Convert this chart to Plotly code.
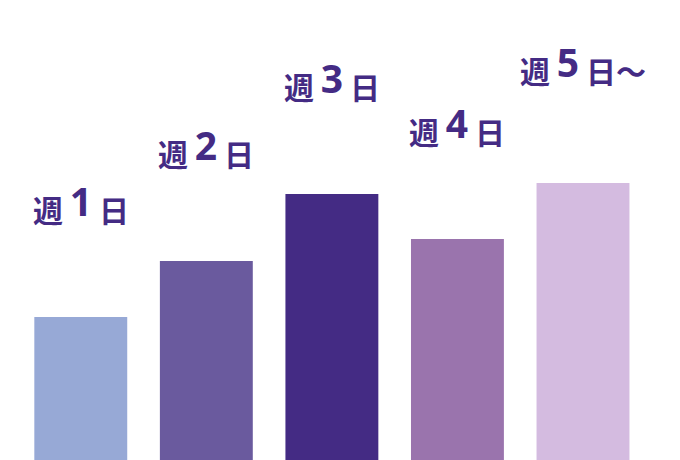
import plotly.graph_objects as go

# 週あたりの日数ごとの棒
categories = ["週1日", "週2日", "週3日", "週4日", "週5日～"]
values = [143, 199, 266, 221, 277]
numbers = ["1", "2", "3", "4", "5"]
suffixes = [" 日", " 日", " 日", " 日", " 日～"]
colors = ["#97A9D6", "#6A5A9E", "#442B84", "#9A74AD", "#D4BBE0"]

text_color = "#442B84"

fig = go.Figure(go.Bar(
    x=categories,
    y=values,
    marker=dict(color=colors, line=dict(width=0)),
    hoverinfo="skip",
))

# ラベル（数字だけ大きく、少し上げる）
for i, (cat, val, num, suf) in enumerate(zip(categories, values, numbers, suffixes)):
    label = ('<b>週 <span style="font-family:\'Noto Sans\';font-size:39px;'
             'baseline-shift:6px">' + num + '</span>' + suf + '</b>')
    last = i == len(categories) - 1
    fig.add_annotation(
        x=cat, y=val, text=label, showarrow=False,
        yanchor="middle", yshift=120 if last else 115,
        font=dict(family="Noto Sans CJK JP", size=30, color=text_color),
    )

# ページの余白 8px を差し引いた配置
fig.update_layout(
    width=680, height=460,
    margin=dict(l=10, r=40, t=0, b=8),
    paper_bgcolor="white", plot_bgcolor="white",
    bargap=0.26,
    showlegend=False,
    xaxis=dict(visible=False),
    yaxis=dict(visible=False, range=[0, 452]),
)

fig.write_html("out.html")
